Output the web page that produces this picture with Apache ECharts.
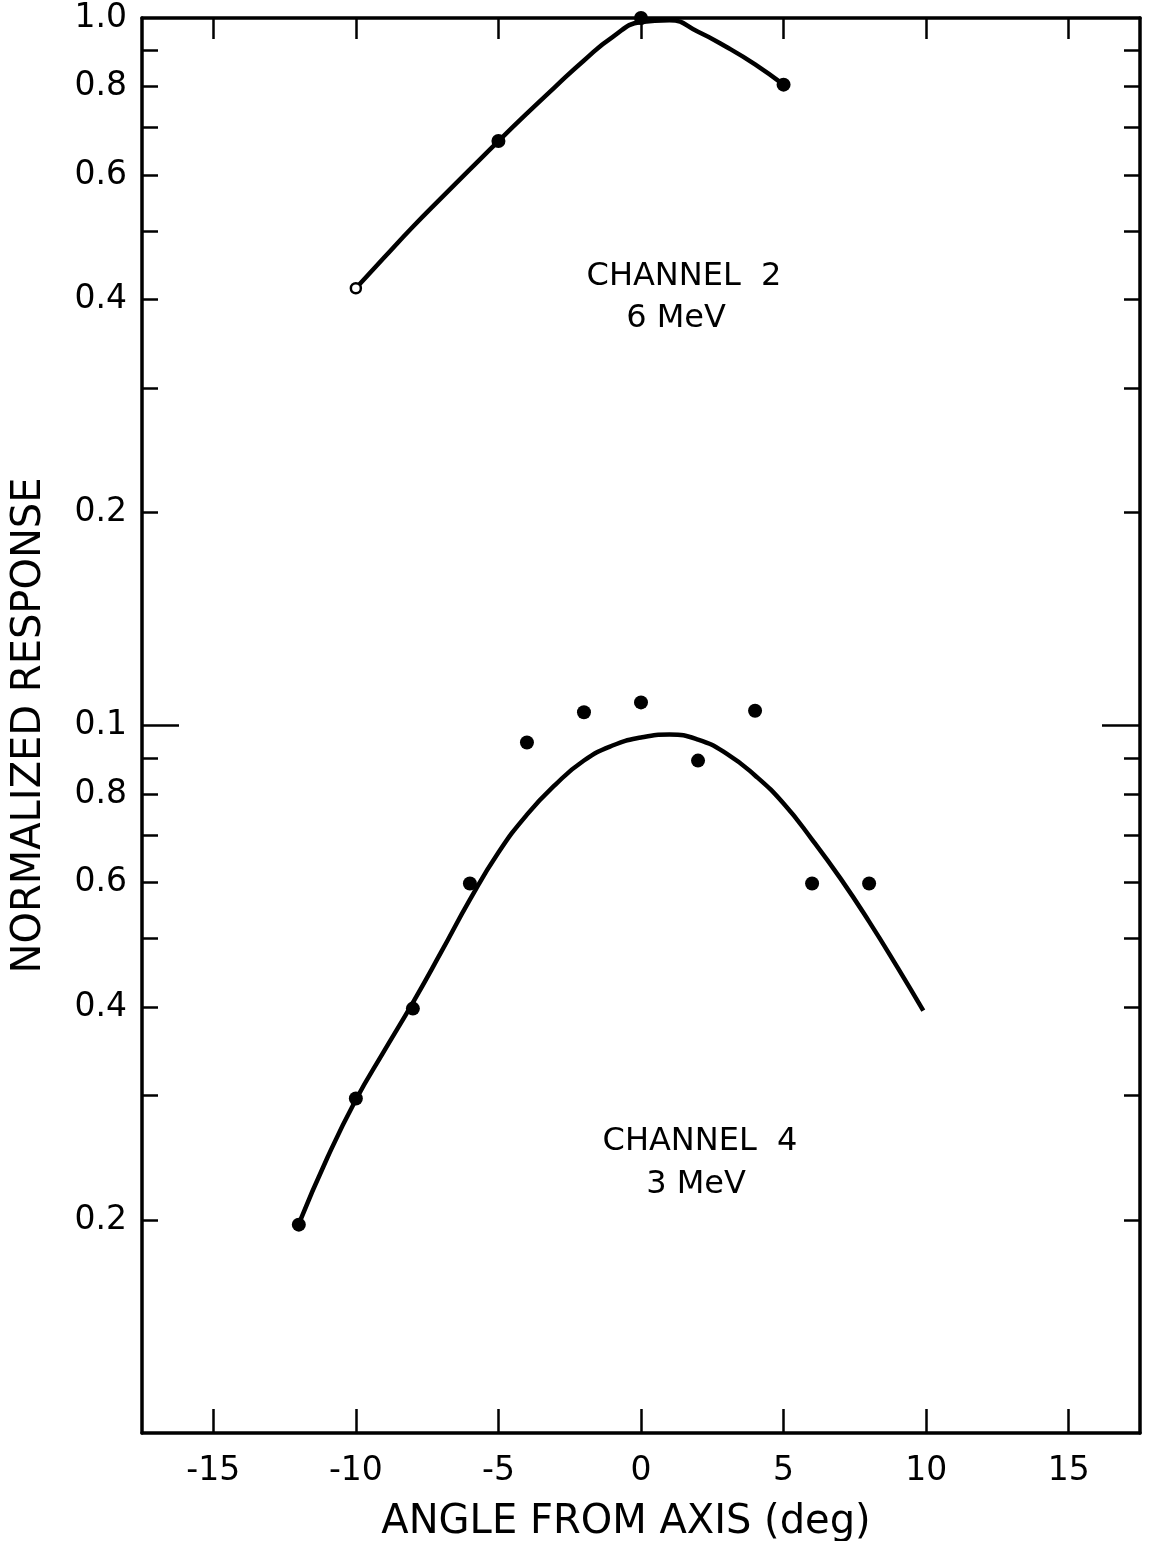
<!DOCTYPE html>
<html><head><meta charset="utf-8">
<script src="https://cdn.jsdelivr.net/npm/echarts@6/dist/echarts.min.js"></script>
<style>html,body{margin:0;padding:0;background:#fff}#chart{width:1149px;height:1541px}</style>
</head><body><div id="chart"></div>
<script>
// ---- tick values / labels ----
const xTickValues = [-15, -10, -5, 0, 5, 10, 15];
const yMinorTickValues = [0.9, 0.8, 0.7, 0.6, 0.5, 0.4, 0.3, 0.2, 0.09, 0.08, 0.07, 0.06, 0.05, 0.04, 0.03, 0.02];
const yMajorTickValues = [0.1];
const yLabelValues = [1, 0.8, 0.6, 0.4, 0.2, 0.1, 0.08, 0.06, 0.04, 0.02];
const yLabelTexts = ['1.0', '0.8', '0.6', '0.4', '0.2', '0.1', '0.8', '0.6', '0.4', '0.2'];

// ---- Channel 2 (6 MeV) ----
const ch2Angles = [-10, -5, 0, 5];
const ch2Response = [0.415, 0.67, 1.0, 0.805];
const ch2OpenMarker = [true, false, false, false];
const ch2FitAngles = [-10, -9, -8, -7, -6, -5, -4, -3, -2, -1, 0, 1, 2, 3, 4, 5];
const ch2FitResponse = [0.415, 0.459, 0.507, 0.557, 0.611, 0.670, 0.733, 0.800, 0.871, 0.940, 0.987, 0.993, 0.956, 0.910, 0.860, 0.805];

// ---- Channel 4 (3 MeV) ----
const ch4Angles = [-12, -10, -8, -6, -4, -2, 0, 2, 4, 6, 8];
const ch4Response = [0.0197, 0.0297, 0.0398, 0.0598, 0.0946, 0.1044, 0.1078, 0.0892, 0.1049, 0.0598, 0.0598];
const ch4FitAngles = [-12, -11, -10, -9, -8, -7, -6, -5, -4, -3, -2, -1, 0, 1, 2, 3, 4, 5, 6, 7, 8, 9, 9.9];
const ch4FitResponse = [0.01975, 0.02449, 0.02958, 0.03470, 0.04058, 0.04790, 0.05674, 0.06614, 0.07481, 0.08250, 0.08923, 0.09369, 0.09617, 0.09711, 0.09554, 0.09128, 0.08499, 0.07757, 0.06900, 0.06075, 0.05282, 0.04547, 0.03953];

const FONT = 'DejaVu Sans';
const zip = (xs, ys) => xs.map((x, i) => [x, ys[i]]);

function yLabel(v) {
  for (let i = 0; i < yLabelValues.length; i++) {
    if (Math.abs(v - yLabelValues[i]) / yLabelValues[i] < 1e-6) return yLabelTexts[i];
  }
  return '';
}

const chart = echarts.init(document.getElementById('chart'), null, { renderer: 'canvas' });

const lineBlack = { color: '#000', width: 3.5 };
const tickStyle = { color: '#000', width: 2.5 };
function logAxis(pos, ticks, len, showLabel, showLine) {
  return {
    type: 'log', logBase: 10, min: 0.01, max: 1, position: pos, gridIndex: 0,
    axisLine: { show: showLine, onZero: false, lineStyle: lineBlack },
    axisTick: { show: true, inside: true, length: len, customValues: ticks, lineStyle: tickStyle },
    axisLabel: showLabel ? {
      show: true, customValues: yLabelValues, formatter: yLabel, margin: 15,
      color: '#000', fontFamily: FONT, fontSize: 33
    } : { show: false },
    splitLine: { show: false }, minorTick: { show: false }, minorSplitLine: { show: false }
  };
}

const option = {
  backgroundColor: '#fff',
  animation: false,
  grid: { left: 142, right: 9, top: 18, bottom: 108, containLabel: false, outerBoundsMode: 'none' },
  xAxis: [
    {
      type: 'value', min: -17.5, max: 17.5, position: 'bottom',
      axisLine: { show: true, onZero: false, lineStyle: lineBlack },
      axisTick: { show: true, inside: true, length: 24, customValues: xTickValues, lineStyle: tickStyle },
      axisLabel: { show: true, customValues: xTickValues, margin: 22, color: '#000', fontFamily: FONT, fontSize: 33 },
      splitLine: { show: false },
      name: 'ANGLE FROM AXIS (deg)', nameLocation: 'middle', nameGap: 70,
      nameTextStyle: { color: '#000', fontFamily: FONT, fontSize: 40, padding: [0, 30, 0, 0] }
    },
    {
      type: 'value', min: -17.5, max: 17.5, position: 'top',
      axisLine: { show: true, onZero: false, lineStyle: lineBlack },
      axisTick: { show: true, inside: true, length: 21, customValues: xTickValues, lineStyle: tickStyle },
      axisLabel: { show: false }, splitLine: { show: false }
    }
  ],
  yAxis: [
    Object.assign(logAxis('left', yMinorTickValues, 16, true, true), {
      name: 'NORMALIZED RESPONSE', nameLocation: 'middle', nameGap: 92,
      nameTextStyle: { color: '#000', fontFamily: FONT, fontSize: 40 }
    }),
    logAxis('right', yMinorTickValues, 16, false, true),
    logAxis('left', yMajorTickValues, 37, false, false),
    logAxis('right', yMajorTickValues, 38, false, false)
  ],
  series: [
    {
      name: 'Channel 2 fit', type: 'line', xAxisIndex: 0, yAxisIndex: 0,
      data: zip(ch2FitAngles, ch2FitResponse), smooth: 0.5, showSymbol: false, symbol: 'none',
      lineStyle: { color: '#000', width: 4.5 }, clip: false, z: 2
    },
    {
      name: 'Channel 2', type: 'scatter', xAxisIndex: 0, yAxisIndex: 0,
      data: zip(ch2Angles, ch2Response).map((p, i) => ch2OpenMarker[i]
        ? { value: p, symbolSize: 10, itemStyle: { color: '#fff', borderColor: '#000', borderWidth: 2.5, opacity: 1 } }
        : { value: p }),
      symbol: 'circle', symbolSize: 14, itemStyle: { color: '#000', opacity: 1 }, clip: false, z: 3
    },
    {
      name: 'Channel 4 fit', type: 'line', xAxisIndex: 0, yAxisIndex: 0,
      data: zip(ch4FitAngles, ch4FitResponse), smooth: 0.5, showSymbol: false, symbol: 'none',
      lineStyle: { color: '#000', width: 4.5 }, z: 2
    },
    {
      name: 'Channel 4', type: 'scatter', xAxisIndex: 0, yAxisIndex: 0,
      data: zip(ch4Angles, ch4Response), symbol: 'circle', symbolSize: 14,
      itemStyle: { color: '#000', opacity: 1 }, z: 3
    }
  ],
  graphic: [
    { type: 'text', x: 684, y: 277, style: { text: 'CHANNEL  2', font: '32px "DejaVu Sans"', fill: '#000', align: 'center', verticalAlign: 'middle' } },
    { type: 'text', x: 676, y: 319, style: { text: '6 MeV', font: '32px "DejaVu Sans"', fill: '#000', align: 'center', verticalAlign: 'middle' } },
    { type: 'text', x: 700, y: 1142, style: { text: 'CHANNEL  4', font: '32px "DejaVu Sans"', fill: '#000', align: 'center', verticalAlign: 'middle' } },
    { type: 'text', x: 696, y: 1185, style: { text: '3 MeV', font: '32px "DejaVu Sans"', fill: '#000', align: 'center', verticalAlign: 'middle' } }
  ]
};
chart.setOption(option);
</script>
</body></html>
